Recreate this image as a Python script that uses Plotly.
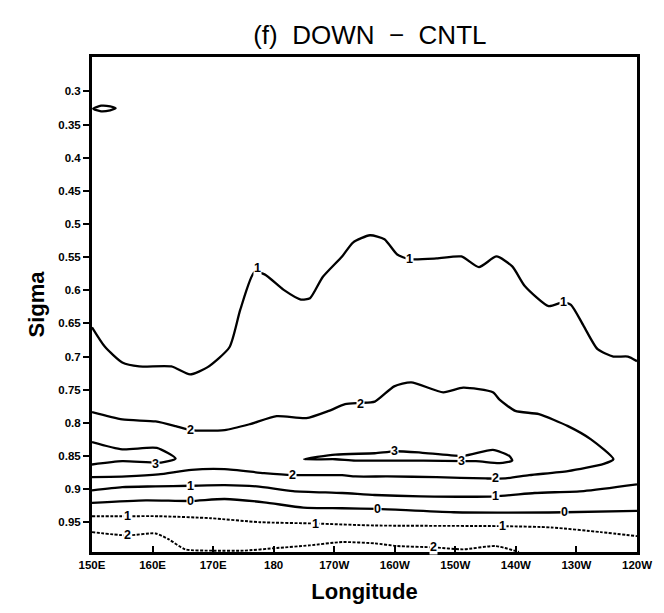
import plotly.graph_objects as go

# ---- axis ticks ----
lon_ticks = [150, 160, 170, 180, 190, 200, 210, 220, 230, 240]
lon_tick_labels = ["150E", "160E", "170E", "180", "170W", "160W", "150W", "140W", "130W", "120W"]
sigma_ticks = [0.3, 0.35, 0.4, 0.45, 0.5, 0.55, 0.6, 0.65, 0.7, 0.75, 0.8, 0.85, 0.9, 0.95]
sigma_tick_labels = ["0.3", "0.35", "0.4", "0.45", "0.5", "0.55", "0.6", "0.65", "0.7", "0.75", "0.8", "0.85", "0.9", "0.95"]

# ---- contour paths (longitude in degrees east, sigma) ----
c1_upper_lon = [150, 152.1, 155, 157.8, 163.1, 166.2, 169.1, 172.7, 174.5, 176.8, 178.5, 181.6, 184.5, 186, 188.1,
                191.3, 193.1, 195.9, 198.3, 200.4, 202.4, 206.9, 211, 213.9, 216.8, 219.4, 221.5, 225.4, 227.8,
                229.1, 231.2, 233.5, 236.1, 238.5, 240]
c1_upper_sig = [0.656, 0.685, 0.709, 0.715, 0.715, 0.727, 0.716, 0.686, 0.629, 0.573, 0.576, 0.599, 0.614, 0.612, 0.58,
                0.549, 0.528, 0.517, 0.523, 0.546, 0.553, 0.552, 0.549, 0.565, 0.549, 0.564, 0.594, 0.624, 0.618,
                0.622, 0.654, 0.689, 0.700, 0.700, 0.707]

c1_blob_lon = [150.2, 151.5, 153.0, 153.9, 153.0, 151.5, 150.2]
c1_blob_sig = [0.326, 0.3215, 0.3225, 0.3255, 0.3285, 0.3300, 0.326]

c2_lon = [150, 155, 160.5, 163.8, 166.2, 171.9, 176.1, 180.5, 185.4, 189.1, 191.8, 194.3, 196.7, 199.9, 202.7,
          208, 211.3, 216.2, 217.3, 219.9, 223.8, 228.6, 232.4, 236.1, 234.5, 228.6, 222.2, 218.3, 215, 206.9,
          198.8, 193.5, 191.3, 183.1, 178.4, 171.9, 166.4, 161, 155.7, 150]
c2_sig = [0.784, 0.795, 0.798, 0.805, 0.811, 0.811, 0.802, 0.790, 0.793, 0.782, 0.772, 0.770, 0.768, 0.745, 0.739,
          0.754, 0.747, 0.754, 0.765, 0.782, 0.787, 0.805, 0.825, 0.855, 0.862, 0.873, 0.879, 0.884, 0.884, 0.882,
          0.881, 0.881, 0.879, 0.879, 0.876, 0.870, 0.871, 0.878, 0.881, 0.882]

c3_left_lon = [150, 155, 160.7, 163.8, 161.4, 155, 150]
c3_left_sig = [0.829, 0.840, 0.838, 0.854, 0.860, 0.858, 0.863]

c3_right_lon = [185, 190.2, 196.7, 199.9, 204.3, 211.3, 216.2, 218.9, 219.4, 217.3, 213.4, 204.3, 193.5, 190.2, 185]
c3_right_sig = [0.855, 0.848, 0.846, 0.843, 0.845, 0.850, 0.841, 0.850, 0.857, 0.861, 0.858, 0.857, 0.857, 0.855, 0.855]

c1_lower_lon = [150, 155, 160.5, 166.2, 171.9, 177.2, 183.2, 191.3, 196.7, 204.3, 216.6, 223.1, 231.2, 240]
c1_lower_sig = [0.902, 0.897, 0.896, 0.895, 0.894, 0.896, 0.903, 0.906, 0.909, 0.911, 0.911, 0.906, 0.903, 0.893]

c0_lon = [150, 158.9, 166.2, 171.9, 178.4, 184.9, 191.3, 197.2, 209.7, 228, 240]
c0_sig = [0.921, 0.917, 0.918, 0.915, 0.920, 0.928, 0.929, 0.930, 0.935, 0.935, 0.933]

cm1_lon = [150, 155.8, 161, 169.6, 177.7, 186.9, 196.7, 217.8, 225.9, 234, 240]
cm1_sig = [0.941, 0.941, 0.941, 0.944, 0.950, 0.952, 0.955, 0.956, 0.958, 0.965, 0.971]

cm2_lon = [150, 155.8, 160.5, 162.7, 165.4, 170, 175, 180.5, 185.9, 191.3, 196.7, 200.4, 206.4, 211.3, 216.6, 220.5]
cm2_sig = [0.965, 0.970, 0.967, 0.976, 0.991, 0.993, 0.993, 0.989, 0.985, 0.980, 0.982, 0.986, 0.988, 0.991, 0.986, 0.995]

# ---- contour labels (lon, sigma, text) ----
label_lon = [177.3, 202.4, 227.8, 166.2, 194.3, 183.1, 216.6, 160.5, 199.9, 211.0, 166.2, 216.6, 166.2, 197.2, 228.0,
             155.8, 186.9, 217.8, 155.8, 206.4]
label_sig = [0.567, 0.553, 0.618, 0.811, 0.771, 0.879, 0.884, 0.862, 0.843, 0.858, 0.895, 0.911, 0.918, 0.930, 0.935,
             0.941, 0.952, 0.956, 0.970, 0.988]
label_txt = ["1", "1", "1", "2", "2", "2", "2", "3", "3", "3", "1", "1", "0", "0", "0",
             "1", "1", "1", "2", "2"]

solid_paths = [(c1_upper_lon, c1_upper_sig), (c1_blob_lon, c1_blob_sig), (c2_lon, c2_sig),
               (c3_left_lon, c3_left_sig), (c3_right_lon, c3_right_sig), (c1_lower_lon, c1_lower_sig),
               (c0_lon, c0_sig)]
dashed_paths = [(cm1_lon, cm1_sig), (cm2_lon, cm2_sig)]

fig = go.Figure()
for xs, ys in solid_paths:
    fig.add_trace(go.Scatter(x=xs, y=ys, mode="lines", line=dict(color="black", width=2.3, shape="spline", smoothing=0.6),
                             hoverinfo="skip", showlegend=False))
for xs, ys in dashed_paths:
    fig.add_trace(go.Scatter(x=xs, y=ys, mode="lines",
                             line=dict(color="black", width=1.9, dash="3px,1.5px", shape="spline", smoothing=0.6),
                             hoverinfo="skip", showlegend=False))

for lx, ly, lt in zip(label_lon, label_sig, label_txt):
    fig.add_annotation(x=lx, y=ly, text="<b>" + lt + "</b>", showarrow=False, bgcolor="white", borderpad=0,
                       font=dict(family="Liberation Sans, Arial", size=12.5, color="black"))

tick_font = dict(family="Liberation Sans, Arial", size=11.5, color="black")
bold = lambda labels: ["<b>" + t + "</b>" for t in labels]

fig.update_layout(
    width=664, height=613,
    margin=dict(l=92, r=17, t=57, b=61),
    paper_bgcolor="white", plot_bgcolor="white",
    title=dict(text="(f)  DOWN  \u2212  CNTL", x=0.557, xanchor="center", y=0.943, yanchor="middle",
               font=dict(family="Liberation Sans, Arial", size=26, color="black")),
    xaxis=dict(range=[150, 240], tickvals=lon_ticks, ticktext=bold(lon_tick_labels), ticks="inside", ticklen=6,
               tickwidth=2, tickcolor="black", showline=True, linewidth=3, linecolor="black", mirror=True,
               showgrid=False, zeroline=False, tickfont=tick_font,
               title=dict(text="Longitude", standoff=14,
                          font=dict(family="Liberation Sans, Arial", size=22, color="black", weight="bold"))),
    yaxis=dict(range=[0.995, 0.248], tickvals=sigma_ticks, ticktext=bold(sigma_tick_labels), ticks="outside", ticklen=6,
               tickwidth=2, tickcolor="black", showline=True, linewidth=3, linecolor="black", mirror=True,
               showgrid=False, zeroline=False, tickfont=tick_font,
               title=dict(text="Sigma", standoff=8,
                          font=dict(family="Liberation Sans, Arial", size=22, color="black", weight="bold"))),
)

fig.write_html("out.html")
